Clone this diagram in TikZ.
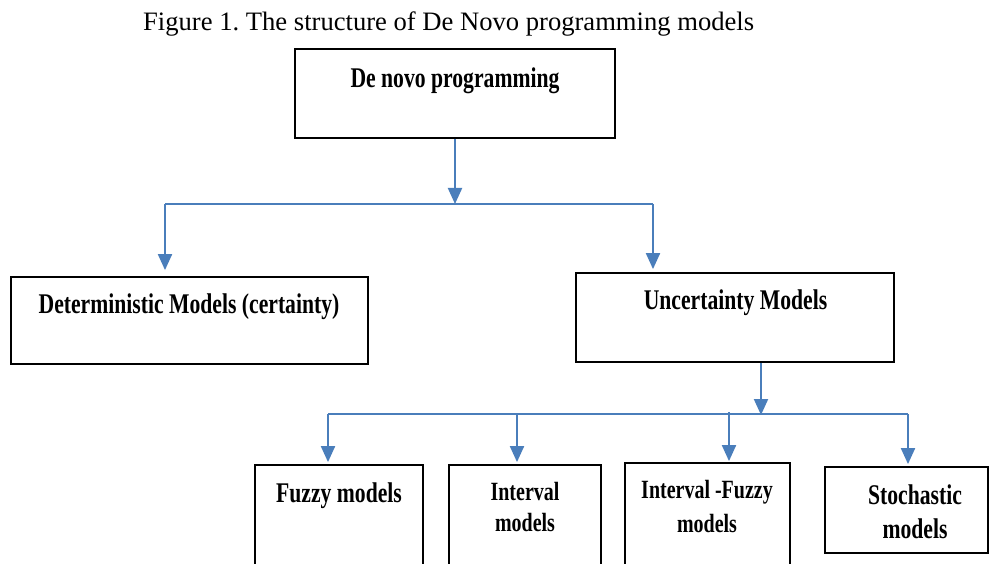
\documentclass[tikz,border=0pt]{standalone}
\usepackage{fontspec}
\setmainfont{Liberation Serif}
\newfontfamily\bxf[FakeStretch=0.76]{Liberation Serif}
\usetikzlibrary{arrows.meta}
\definecolor{lineblue}{HTML}{4A7EBB}
\frenchspacing
\begin{document}
\begin{tikzpicture}[x=1pt,y=-1pt,
  box/.style={draw=black,line width=1.8pt,rectangle,inner sep=0pt},
  conn/.style={draw=lineblue,line width=2pt},
  arr/.style={draw=lineblue,line width=2pt,-{Triangle[width=14pt,length=16pt]}},
  lbl/.style={anchor=base,inner sep=0pt,font=\bxf\bfseries\fontsize{28.5}{30}\selectfont},
  lbls/.style={anchor=base,inner sep=0pt,font=\bxf\bfseries\fontsize{26.3}{30}\selectfont}]
\useasboundingbox (0,0) rectangle (997,564);
\clip (0,0) rectangle (997,564);
% title
\node[anchor=base west,inner sep=0pt,font=\fontsize{26.6}{30}\selectfont] (title) at (143,31) {Figure 1. The structure of De Novo programming models};
% boxes
\node[box,minimum width=320pt,minimum height=89pt] (top) at (455,93.5) {};
\node[box,minimum width=357pt,minimum height=87pt] (det) at (189.5,320.5) {};
\node[box,minimum width=318pt,minimum height=89pt] (unc) at (735,317.5) {};
\node[box,minimum width=168pt,minimum height=115pt] (fuz) at (339,522.5) {};
\node[box,minimum width=152pt,minimum height=115pt] (intv) at (525,522.5) {};
\node[box,minimum width=165pt,minimum height=117pt] (ifz) at (707.5,521.5) {};
\node[box,minimum width=163pt,minimum height=86pt] (sto) at (906.5,510) {};
% labels
\node[lbl] (ltop) at (455,88) {De novo programming};
\node[lbl] (ldet) at (189,314) {Deterministic Models (certainty)};
\node[lbl] (lunc) at (735.5,310) {Uncertainty Models};
\node[lbl] (lfuz) at (339,502) {Fuzzy models};
\node[lbls] (lint1) at (525,500) {Interval};
\node[lbls] (lint2) at (525,531) {models};
\node[lbls] (lifz1) at (707,498) {Interval -Fuzzy};
\node[lbls] (lifz2) at (707,532) {models};
\node[lbl] (lsto1) at (915,504) {Stochastic};
\node[lbl] (lsto2) at (915,538) {models};
% connectors
\coordinate (b1) at (455,204);
\coordinate (b1L) at (165,204);
\coordinate (b1R) at (653,204);
\draw[arr] (top.south) -- (b1);
\draw[conn] (b1L) -- (b1R);
\draw[arr,shorten >=6pt] (b1L) -- (b1L |- det.north);
\draw[arr,shorten >=3pt] (b1R) -- (b1R |- unc.north);
\coordinate (b2) at (761,415);
\coordinate (b2L) at (328,414);
\coordinate (b2R) at (908,414);
\coordinate (b2c) at (517,414);
\coordinate (b2d) at (729,412);
\draw[arr] (unc.south -| b2) -- (b2);
\draw[conn] (b2L) -- (b2R);
\draw[arr,shorten >=2pt] (b2L) -- (b2L |- fuz.north);
\draw[arr,shorten >=2pt] (b2c) -- (b2c |- intv.north);
\draw[arr,shorten >=1pt] (b2d) -- (b2d |- ifz.north);
\draw[arr,shorten >=2pt] (b2R) -- (b2R |- sto.north);
\end{tikzpicture}
\end{document}
